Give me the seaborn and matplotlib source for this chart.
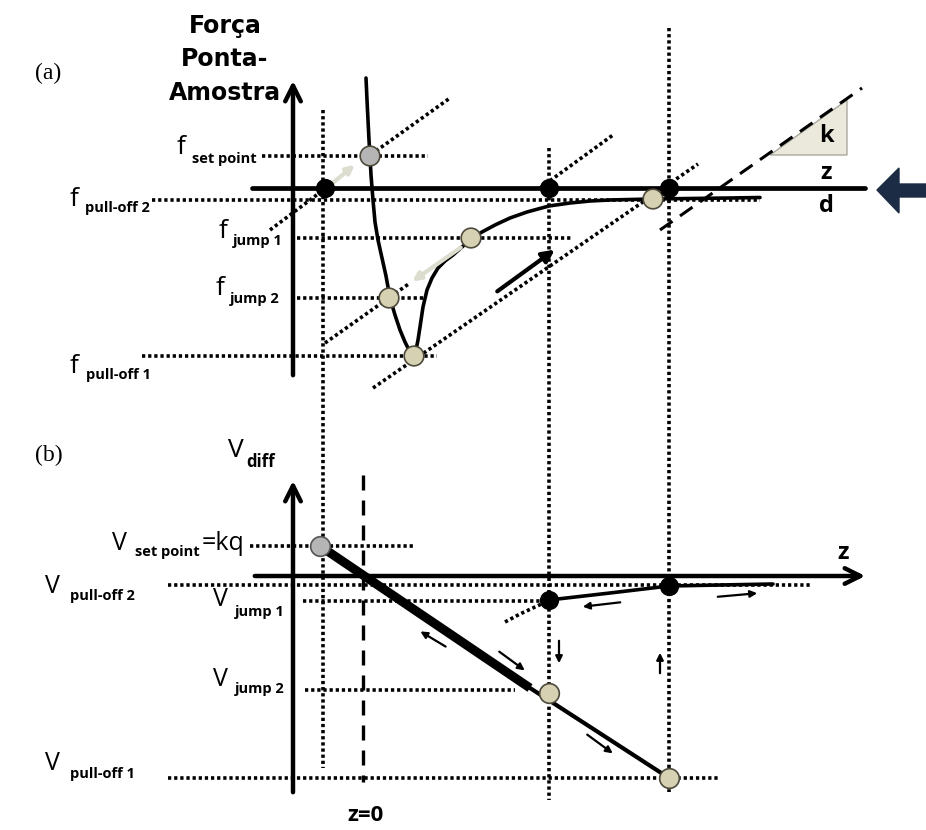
import numpy as np
import matplotlib
matplotlib.use("Agg")
import matplotlib.pyplot as plt
import seaborn as sns
import pandas as pd

# ---------------------------------------------------------------
# Schematic geometry (drawing units: 926 x 830 canvas, y downward)
# ---------------------------------------------------------------
# z positions shared by both panels
z_setpoint_dot = 323      # contact / set point column
z_jump = 549              # jump column
z_pulloff = 669           # pull-off column
z_zero = 363              # z = 0 (dashed)

# panel (a): force levels
axis_a_y = 188
f_levels = {"set point": 156, "pull-off 2": 200, "jump 1": 238,
            "jump 2": 298, "pull-off 1": 356}

# tip-sample force curve (z, f)
curve_z = [366, 367, 368, 369, 370, 371, 373, 375, 378, 382, 386, 390, 395,
           400, 405, 409, 412, 414, 416, 418, 420, 423, 427, 432, 438, 445,
           453, 462, 471, 482, 495, 510, 527, 549, 570, 590, 610, 630, 653,
           690, 730, 760]
curve_f = [78, 100, 120, 140, 156, 175, 200, 222, 240, 258, 276, 298, 315,
           330, 342, 350, 354, 355, 350, 340, 327, 307, 290, 278, 268, 261,
           255, 247, 239, 232, 225, 218, 212, 206, 203, 201, 200, 199.5, 199,
           198.5, 198, 197.5]

# state points on the force curve
dots_a_z = [370, 471, 389, 414, 653]
dots_a_f = [156, 238, 298, 356, 199]
dots_a_kind = ["set", "jump", "jump", "jump", "jump"]
axis_dots_a_z = [325, 549, 669]

# cantilever load lines (slope k) : (z_start, f_start, z_end, f_end)
load_lines = [(270, 230, 450, 98),
              (325, 343, 613, 135),
              (373, 388, 698, 164)]
k_line = (660, 230, 862, 88)
k_triangle_z = [770, 847, 847]
k_triangle_f = [155, 100, 155]

# panel (b): deflection signal levels
axis_b_y = 576
v_levels = {"set point": 546, "pull-off 2": 585, "jump 1": 601,
            "jump 2": 690, "pull-off 1": 778}
v_contact_z = [320, 530]
v_contact_v = [546, 688]
v_contact2_z = [530, 669]
v_contact2_v = [688, 778]
v_free_z = [549, 610, 669, 720, 773]
v_free_v = [600, 593, 586, 585, 584]
v_snap_z = [505, 520, 535, 546]
v_snap_v = [622, 614, 607, 602]

# ---------------------------------------------------------------
sns.set_theme(style="white")
plt.rcParams["font.family"] = ["Open Sans", "DejaVu Sans"]
plt.rcParams["text.color"] = "black"

fig = plt.figure(figsize=(9.26, 8.30), dpi=100)
ax = fig.add_axes([0, 0, 1, 1])
ax.set_xlim(0, 926)
ax.set_ylim(830, 0)
ax.axis("off")

DOT = (0, (0.9, 0.8))
dot_kw = dict(color="black", lw=2.6, linestyle=DOT, dash_capstyle="butt", zorder=2)

beige = "#d7d1b3"
gray = "#b5b5b5"
light = "#dcdccf"
S_DOT = 200
S_BLACK = 165

# ---------------- panel (a) ----------------
# vertical dotted guides through both panels
ax.plot([z_setpoint_dot, z_setpoint_dot], [110, 768], **dot_kw)
ax.plot([z_jump, z_jump], [148, 800], **dot_kw)
ax.plot([z_pulloff, z_pulloff], [28, 792], **dot_kw)

# horizontal dotted levels
ax.plot([262, 428], [f_levels["set point"]] * 2, **dot_kw)
ax.plot([152, 760], [f_levels["pull-off 2"]] * 2, **dot_kw)
ax.plot([297, 572], [f_levels["jump 1"]] * 2, **dot_kw)
ax.plot([297, 425], [f_levels["jump 2"]] * 2, **dot_kw)
ax.plot([142, 437], [f_levels["pull-off 1"]] * 2, **dot_kw)

# load lines
seg1 = load_lines[0]
ax.plot([seg1[0], 326], [seg1[1], 188], **dot_kw)
ax.plot([376, seg1[2]], [151, seg1[3]], **dot_kw)
seg2 = load_lines[1]
ax.plot([seg2[0], 410], [seg2[1], 283], **dot_kw)
ax.plot([540, seg2[2]], [188, seg2[3]], **dot_kw)
seg3 = load_lines[2]
ax.plot([seg3[0], seg3[2]], [seg3[1], seg3[3]], **dot_kw)

# spring constant line and triangle
ax.plot([k_line[0], k_line[2]], [k_line[1], k_line[3]], color="black",
        lw=2.2, linestyle=(0, (5, 3)), zorder=2)
ax.fill(k_triangle_z, k_triangle_f, facecolor="#ebe8dc", edgecolor="#a9a9a0",
        lw=1, zorder=1)
ax.text(826, 136, "k", fontsize=17, fontweight="bold", ha="center", va="center")

# axes of panel (a)
ax.annotate("", xy=(293, 78), xytext=(293, 378),
            arrowprops=dict(arrowstyle="->", lw=3.2, color="black",
                            mutation_scale=28), zorder=3)
ax.plot([252, 865], [axis_a_y, axis_a_y], color="black", lw=3.4, zorder=3)
ax.text(826, 173, "z", fontsize=17, fontweight="bold", ha="center", va="center")
ax.text(826, 206, "d", fontsize=17, fontweight="bold", ha="center", va="center")

# approach direction arrow
arrow_z = [877, 899, 899, 926, 926, 899, 899]
arrow_f = [190, 168, 184, 184, 197, 197, 213]
ax.fill(arrow_z, arrow_f, color="#1d2c45", zorder=3)

# force curve
curve_df = pd.DataFrame({"z": curve_z, "f": curve_f})
sns.lineplot(data=curve_df, x="z", y="f", sort=False, color="black", lw=2.6,
             ax=ax, zorder=4)

# motion arrows in panel (a)
ax.annotate("", xy=(557, 248), xytext=(495, 293),
            arrowprops=dict(arrowstyle="-|>", lw=3, color="black",
                            mutation_scale=18), zorder=4)
ax.annotate("", xy=(357, 163), xytext=(329, 186),
            arrowprops=dict(arrowstyle="-|>", lw=3, color=light,
                            mutation_scale=12), zorder=4)
ax.annotate("", xy=(410, 283), xytext=(463, 246),
            arrowprops=dict(arrowstyle="-|>", lw=3, color=light,
                            mutation_scale=12), zorder=4)

# state dots
dots_a = pd.DataFrame({"z": dots_a_z, "f": dots_a_f, "kind": dots_a_kind})
sns.scatterplot(data=dots_a, x="z", y="f", hue="kind",
                palette={"set": gray, "jump": beige}, s=S_DOT,
                edgecolor="#4d4a3c", linewidth=1.2, legend=False, ax=ax, zorder=6)
ax.scatter(axis_dots_a_z, [axis_a_y] * 3, s=S_BLACK, color="black", zorder=6)

# axis title and level labels
ax.text(35, 73, "(a)", fontsize=17, family="Liberation Serif", ha="left",
        va="center")
ax.text(225, 59, "Força\nPonta-\nAmostra", fontsize=17, fontweight="bold",
        family="DejaVu Sans", ha="center", va="center", linespacing=1.5)


def level_label(x, y, big, sub, sx, sy, big_size=19, sub_size=10.5):
    ax.text(x, y, big, fontsize=big_size, ha="left", va="center", zorder=7)
    ax.text(sx, sy, sub, fontsize=sub_size, fontweight="bold",
            ha="left", va="center", zorder=7)


level_label(177, 148, "f", "set point", 192, 159)
level_label(70, 199, "f", "pull-off 2", 85, 208)
level_label(219, 231, "f", "jump 1", 233, 241)
level_label(216, 288, "f", "jump 2", 230, 299)
level_label(70, 366, "f", "pull-off 1", 86, 375)

# ---------------- panel (b) ----------------
ax.plot([250, 415], [v_levels["set point"]] * 2, **dot_kw)
ax.plot([168, 812], [v_levels["pull-off 2"]] * 2, **dot_kw)
ax.plot([303, 549], [v_levels["jump 1"]] * 2, **dot_kw)
ax.plot([305, 515], [v_levels["jump 2"]] * 2, **dot_kw)
ax.plot([168, 718], [v_levels["pull-off 1"]] * 2, **dot_kw)

ax.plot([z_zero, z_zero], [475, 782], color="black", lw=2.4,
        linestyle=(0, (4.5, 3)), zorder=2)

ax.annotate("", xy=(293, 478), xytext=(293, 795),
            arrowprops=dict(arrowstyle="->", lw=3.2, color="black",
                            mutation_scale=28), zorder=3)
ax.annotate("", xy=(868, axis_b_y), xytext=(252, axis_b_y),
            arrowprops=dict(arrowstyle="->", lw=3.2, color="black",
                            mutation_scale=28), zorder=3)
ax.text(843, 553, "z", fontsize=17, fontweight="bold", ha="center", va="center")

# deflection signal
ax.plot(v_contact_z, v_contact_v, color="black", lw=6.5, solid_capstyle="butt",
        zorder=4)
ax.plot(v_contact2_z, v_contact2_v, color="black", lw=3, zorder=4)
ax.plot(v_free_z, v_free_v, color="black", lw=2.6, zorder=4)
ax.plot(v_snap_z, v_snap_v, **dot_kw)

# direction arrows in panel (b)
small = dict(arrowstyle="-|>", lw=1.6, color="black", mutation_scale=10)
for start, end in [((448, 648), (418, 630)), ((497, 650), (527, 672)),
                   ((585, 733), (615, 755)), ((559, 638), (559, 666)),
                   ((660, 676), (660, 650)), ((623, 602), (580, 607)),
                   ((715, 597), (760, 593))]:
    ax.annotate("", xy=end, xytext=start, arrowprops=small, zorder=5)

ax.scatter([320], [v_levels["set point"]], s=S_DOT, color=gray,
           edgecolor="#555555", linewidth=1.2, zorder=6)
ax.scatter([549, 669], [693, 778], s=S_DOT, color=beige,
           edgecolor="#4d4a3c", linewidth=1.2, zorder=6)
ax.scatter([549, 669], [600, 586], s=S_BLACK, color="black", zorder=6)

ax.text(35, 455, "(b)", fontsize=17, family="Liberation Serif", ha="left",
        va="center")
ax.text(228, 450, "V", fontsize=19, ha="left", va="center")
ax.text(246, 462, "diff", fontsize=12, fontweight="bold", ha="left",
        va="center")

level_label(112, 543, "V", "set point", 135, 552, big_size=18)
ax.text(202, 543, "=kq", fontsize=18, ha="left", va="center")
level_label(45, 586, "V", "pull-off 2", 70, 596, big_size=18)
level_label(213, 599, "V", "jump 1", 235, 612, big_size=18)
level_label(213, 679, "V", "jump 2", 235, 689, big_size=18)
level_label(45, 763, "V", "pull-off 1", 70, 774, big_size=18)

ax.text(365, 815, "z=0", fontsize=16, fontweight="bold", ha="center",
        va="center")

fig.savefig("out.png", dpi=100)
